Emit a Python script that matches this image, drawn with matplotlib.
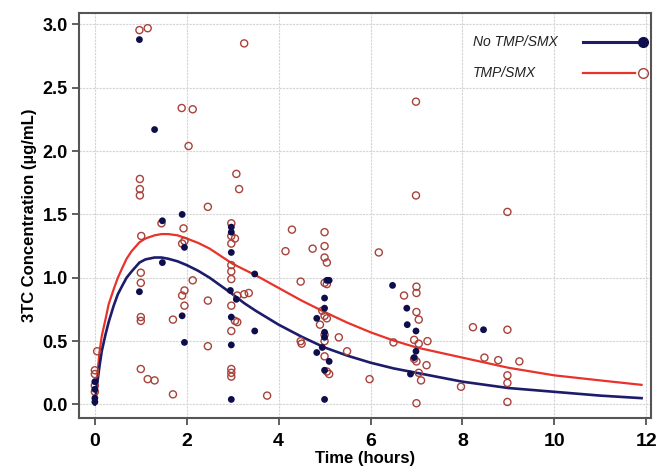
import matplotlib
matplotlib.use("Agg")
import matplotlib.pyplot as plt

plt.rcParams['font.family'] = ['Liberation Sans', 'DejaVu Sans']

# Observed concentrations, No TMP/SMX (filled)
no_t = [0.97, 1.30, 1.47, 1.47, 0.97, 1.90, 1.95, 1.90, 1.95,
        2.97, 2.97, 2.97, 2.95, 2.97, 2.97, 2.97, 3.08,
        3.48, 3.48,
        4.83, 4.83, 5.00, 5.00, 5.05, 5.10, 5.00, 5.10, 5.00, 5.00, 5.00, 4.95,
        6.48, 6.79, 6.80, 6.99, 6.99, 6.87, 6.95, 8.46,
        0.00, 0.00, 0.00, 0.00]
no_c = [2.88, 2.17, 1.45, 1.12, 0.89, 1.50, 1.24, 0.70, 0.49,
        1.40, 1.36, 1.20, 0.90, 0.69, 0.47, 0.04, 0.83,
        1.03, 0.58,
        0.68, 0.41, 0.57, 0.84, 0.98, 0.98, 0.27, 0.34, 0.04, 0.53, 0.76, 0.45,
        0.94, 0.76, 0.63, 0.58, 0.42, 0.24, 0.37, 0.59,
        0.02, 0.05, 0.12, 0.18]

# Observed concentrations, TMP/SMX (open)
tmp_t = [0.97, 1.15, 3.25, 1.89, 2.13, 2.04, 6.99, 6.99, 3.08, 3.14, 2.46, 8.98,
         0.98, 0.98, 0.98, 1.01, 1.00, 1.00, 1.00, 1.00, 1.00, 1.15, 1.30,
         1.70, 1.70, 1.45, 1.93, 1.90, 1.95, 2.13, 1.95, 1.90, 1.95, 2.46, 2.46,
         2.97, 2.97, 3.05, 2.97, 2.97, 2.97, 2.97, 2.97, 3.05, 3.10, 2.97, 2.97,
         2.97, 2.97, 3.10, 3.25, 3.35,
         3.75, 4.15, 4.29, 4.74, 4.48, 4.48, 4.50,
         5.00, 5.00, 5.00, 5.05, 5.00, 5.05, 4.95, 5.00, 5.05, 4.90, 5.00, 5.00,
         5.00, 5.05, 5.10, 5.31, 5.49, 5.98, 6.18, 6.50, 6.73,
         7.00, 7.00, 7.00, 7.05, 6.95, 7.05, 7.00, 6.95, 7.05, 7.10, 7.00,
         7.24, 7.22, 7.97, 8.23, 8.48, 8.78, 8.98, 9.24, 8.98, 8.98, 8.98,
         0.05, 0.00, 0.00, 0.00, 0.00]
tmp_c = [2.955, 2.97, 2.85, 2.34, 2.33, 2.04, 2.39, 1.65, 1.82, 1.70, 1.56, 1.52,
         1.78, 1.70, 1.65, 1.33, 1.04, 0.96, 0.69, 0.66, 0.28, 0.20, 0.19,
         0.08, 0.67, 1.43, 1.39, 1.27, 1.29, 0.98, 0.90, 0.86, 0.78, 0.82, 0.46,
         1.43, 1.33, 1.31, 1.27, 1.10, 1.05, 0.99, 0.78, 0.66, 0.65, 0.58, 0.28,
         0.25, 0.22, 0.86, 0.87, 0.88,
         0.07, 1.21, 1.38, 1.23, 0.97, 0.50, 0.48,
         1.36, 1.25, 1.16, 1.12, 0.96, 0.95, 0.74, 0.70, 0.68, 0.63, 0.55, 0.50,
         0.38, 0.26, 0.24, 0.53, 0.42, 0.20, 1.20, 0.49, 0.86,
         0.93, 0.88, 0.73, 0.67, 0.51, 0.48, 0.34, 0.36, 0.25, 0.19, 0.01,
         0.50, 0.31, 0.14, 0.61, 0.37, 0.35, 0.59, 0.34, 0.23, 0.17, 0.02,
         0.42, 0.27, 0.24, 0.15, 0.10]

# Fitted mean curves
fit_t = [0.0, 0.05, 0.1, 0.15, 0.23, 0.3, 0.41, 0.5, 0.6, 0.69, 0.8, 0.97, 1.1,
         1.3, 1.45, 1.6, 1.8, 2.0, 2.25, 2.5, 2.75, 3.0, 3.25, 3.5, 3.75, 4.0,
         4.5, 5.0, 5.5, 6.0, 6.5, 7.0, 7.5, 8.0, 9.0, 10.0, 11.0, 11.9]
fit_no = [0.0, 0.16, 0.30, 0.42, 0.55, 0.65, 0.78, 0.87, 0.94, 1.00, 1.05, 1.12,
          1.145, 1.16, 1.16, 1.15, 1.13, 1.10, 1.055, 1.00, 0.935, 0.87, 0.80,
          0.74, 0.685, 0.63, 0.535, 0.45, 0.385, 0.33, 0.285, 0.25, 0.215, 0.18,
          0.13, 0.10, 0.07, 0.05]
fit_tmp = [0.0, 0.22, 0.41, 0.54, 0.67, 0.79, 0.91, 1.00, 1.08, 1.15, 1.21, 1.28,
           1.31, 1.335, 1.345, 1.345, 1.335, 1.31, 1.275, 1.23, 1.17, 1.11, 1.065,
           1.02, 0.97, 0.92, 0.82, 0.73, 0.645, 0.57, 0.505, 0.45, 0.41, 0.37,
           0.29, 0.23, 0.19, 0.155]

x_ticks = [0, 2, 4, 6, 8, 10, 12]
y_ticks = [0.0, 0.5, 1.0, 1.5, 2.0, 2.5, 3.0]

navy = '#1c1c6b'
red = '#e8322a'
open_edge = '#a8423a'

fig = plt.figure(figsize=(6.62, 4.73), dpi=100)
ax = fig.add_axes([0.119, 0.117, 0.864, 0.855])

ax.set_xlim(-0.35, 12.1)
ax.set_ylim(-0.104, 3.088)

ax.grid(True, color='#d4d4d4', linewidth=0.8, linestyle=(0, (2, 1)))
ax.set_axisbelow(True)

ax.plot(fit_t, fit_tmp, color=red, lw=1.6, zorder=3, solid_joinstyle='round')
ax.plot(fit_t, fit_no, color=navy, lw=1.9, zorder=3, solid_joinstyle='round')
ax.scatter(tmp_t, tmp_c, s=26, facecolors='none', edgecolors=open_edge,
           linewidths=1.0, zorder=4)
ax.scatter(no_t, no_c, s=24, color='#0e0e4c', edgecolors='none', zorder=5)

ax.set_xticks(x_ticks)
ax.set_yticks(y_ticks)
ax.set_xticklabels([str(v) for v in x_ticks], fontsize=14, fontweight='bold')
ax.set_yticklabels([f'{v:.1f}' for v in y_ticks], fontsize=13, fontweight='bold')
ax.tick_params(direction='out', length=5, width=1.2, color='#444444', pad=3)
ax.tick_params(axis='x', pad=6)

for s in ax.spines.values():
    s.set_color('#555555')
    s.set_linewidth(1.5)

ax.set_xlabel('Time (hours)', fontsize=12, fontweight='bold', labelpad=1)
ax.set_ylabel('3TC Concentration (µg/mL)', fontsize=12, fontweight='bold', labelpad=4)

# Legend (label on the left, line + marker on the right)
tr = ax.transAxes
ax.text(0.689, 0.929, 'No TMP/SMX', transform=tr, fontsize=10, style='italic',
        va='center', ha='left', color='#222222')
ax.plot([0.881, 0.976], [0.929, 0.929], transform=tr, color=navy, lw=2.2)
ax.plot([0.986], [0.929], transform=tr, marker='o', ms=7, color='#0e0e4c', ls='none')
ax.text(0.689, 0.852, 'TMP/SMX', transform=tr, fontsize=10, style='italic',
        va='center', ha='left', color='#222222')
ax.plot([0.881, 0.972], [0.852, 0.852], transform=tr, color=red, lw=1.6)
ax.plot([0.986], [0.852], transform=tr, marker='o', ms=7, mfc='none',
        mec=open_edge, mew=1.0, ls='none')

fig.savefig('out.png', dpi=100)
